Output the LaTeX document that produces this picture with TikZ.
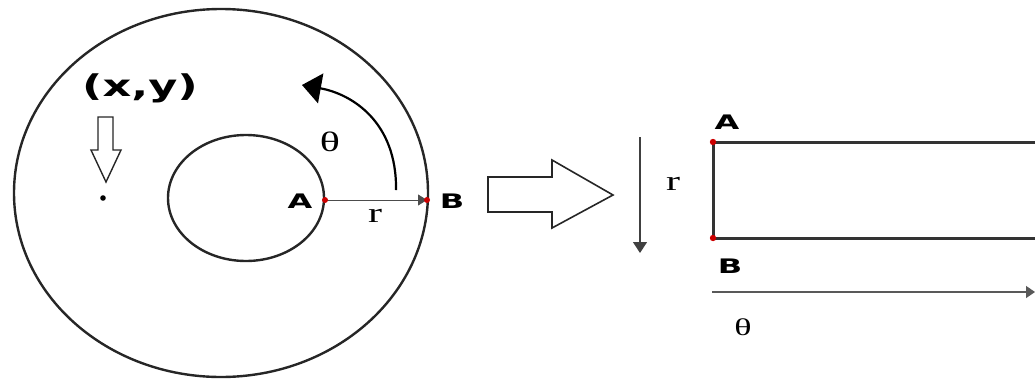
\documentclass[tikz,border=0pt]{standalone}
\usepackage{fontspec}
\setmainfont{Liberation Serif}
\newfontfamily\lab{DejaVu Sans}
\usetikzlibrary{arrows.meta}
\begin{document}
\begin{tikzpicture}[x=1pt,y=-1pt,
  bold/.style={font=\lab\bfseries\fontsize{20}{20}\selectfont, inner sep=0pt, xscale=1.6},
  sym/.style={font=\fontsize{28}{28}\selectfont, inner sep=0pt, xscale=1.5},
  thick line/.style={line width=2.4pt, black!85},
  reddot/.style={fill=red!80!black, draw=none},
  hollow/.style={draw=black!85, line width=1.6pt, fill=white, line join=miter}]
\useasboundingbox (0,0) rectangle (1035,380);
% left figure
\draw[thick line] (221,193) ellipse [x radius=207, y radius=184];
\draw[thick line] (246,198) ellipse [x radius=78, y radius=63];
\coordinate (pA) at (325,200);
\coordinate (pB) at (427,200);
\draw[line width=0.8pt, black!70, -{Triangle[width=11pt,length=9pt]}] (pA) -- (pB);
\fill[reddot] (pA) circle (3);
\fill[reddot] (pB) circle (3);
\node[bold] (lA) at (300,201) {A};
\node[bold] (lB) at (452,201) {B};
\node[sym] (lr) at (375,216) {r};
\node[sym] (lt) at (330,142) {θ};
\coordinate (cs) at (396,190);
\coordinate (ce) at (302,85);
\draw[line width=2.2pt, -{Triangle[width=30pt,length=19pt]}] (cs) .. controls (397,122) and (352,94) .. (ce);
\node[bold, font=\lab\bfseries\fontsize{30}{30}\selectfont, xscale=0.93] (xy) at (140,88) {(x,y)};
\draw[hollow, line width=1.4pt] (98,117) -- (113,117) -- (113,150) -- (121,150) -- (106,182) -- (91,150) -- (98,150) -- cycle;
\fill (103,198) circle (2.8);
% big arrow
\draw[hollow] (488,177) -- (552,177) -- (552,160) -- (613,195) -- (552,228) -- (552,212) -- (488,212) -- cycle;
% right figure
\coordinate (vs) at (640,137);
\coordinate (ve) at (640,253);
\draw[line width=1.2pt, black!75, -{Triangle[width=14pt,length=11pt]}] (vs) -- (ve);
\node[sym] (rr) at (673,184) {r};
\coordinate (rA) at (713,142);
\coordinate (rB) at (713,238);
\draw[line width=3pt, black!80] (1040,142) -- (rA) -- (rB) -- (1040,238);
\fill[reddot] (rA) circle (3.2);
\fill[reddot] (rB) circle (3.2);
\node[bold] (rlA) at (727,122) {A};
\node[bold] (rlB) at (730,266) {B};
\coordinate (ts) at (712,292);
\coordinate (te) at (1035,292);
\draw[line width=1.4pt, black!65, -{Triangle[width=12pt,length=9pt]}] (ts) -- (te);
\node[sym, font=\fontsize{24}{24}\selectfont] (rt) at (743,327) {θ};
\end{tikzpicture}
\end{document}
